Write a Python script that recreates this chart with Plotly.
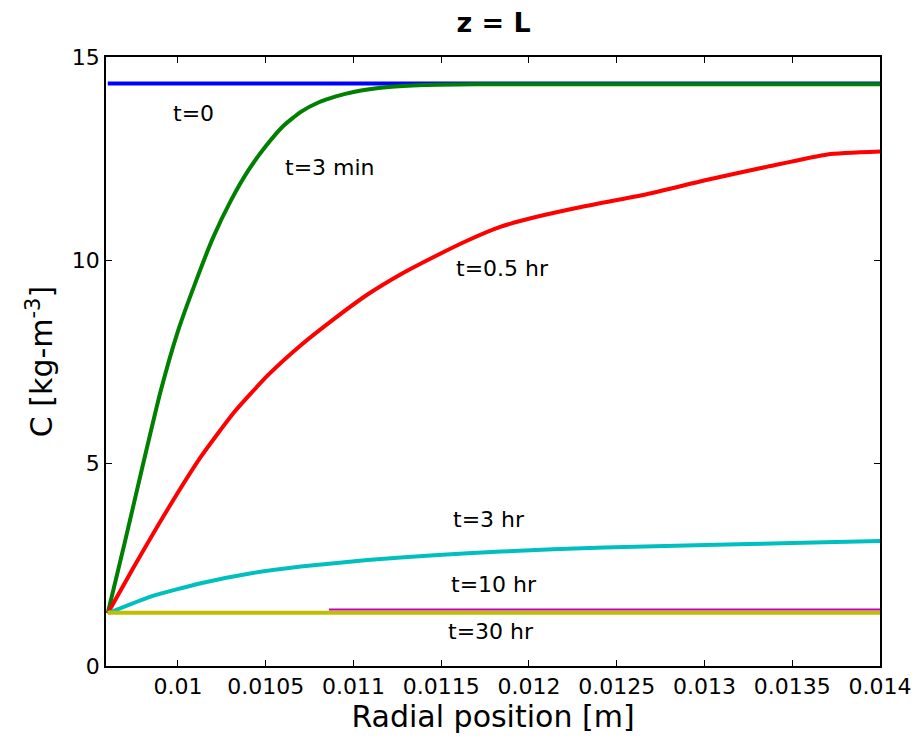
import plotly.graph_objects as go

# Data
x_t0 = [0.0096, 0.014]
c_t0 = [14.35, 14.35]

x_3min = [0.0096, 0.0097, 0.0098, 0.0099, 0.01, 0.0101, 0.0102, 0.0103, 0.0104,
          0.0105, 0.0106, 0.0107, 0.0108, 0.0109, 0.011, 0.0112, 0.0114, 0.0117, 0.014]
c_3min = [1.3, 3.1, 4.95, 6.75, 8.25, 9.45, 10.55, 11.45, 12.2,
          12.8, 13.3, 13.65, 13.88, 14.03, 14.14, 14.26, 14.31, 14.33, 14.33]

x_05hr = [0.0096, 0.00975, 0.00994, 0.01013, 0.01032, 0.01051, 0.0107, 0.01089,
          0.01108, 0.01127, 0.01146, 0.01165, 0.01184, 0.01205, 0.01229, 0.01267,
          0.01301, 0.01336, 0.0137, 0.014]
c_05hr = [1.3, 2.45, 3.85, 5.15, 6.25, 7.15, 7.9, 8.55,
          9.15, 9.65, 10.08, 10.48, 10.82, 11.07, 11.3, 11.62,
          11.97, 12.3, 12.6, 12.67]

x_3hr = [0.0096, 0.009845, 0.01013, 0.01041, 0.0107, 0.01108, 0.01146, 0.01184,
         0.01243, 0.01301, 0.0135, 0.014]
c_3hr = [1.3, 1.71, 2.04, 2.28, 2.45, 2.61, 2.73, 2.82,
         2.92, 2.98, 3.03, 3.08]

x_10hr = [0.01086, 0.014]
c_10hr = [1.39, 1.39]

x_30hr = [0.0096, 0.014]
c_30hr = [1.31, 1.31]

labels = ["t=0", "t=3 min", "t=0.5 hr", "t=3 hr", "t=10 hr", "t=30 hr"]
label_x = [0.010089, 0.010869, 0.01185, 0.011773, 0.011803, 0.011786]
label_y = [13.62, 12.29, 9.8, 3.6, 2.0, 0.84]

x_ticks = [0.01, 0.0105, 0.011, 0.0115, 0.012, 0.0125, 0.013, 0.0135, 0.014]
x_tick_text = ["0.01", "0.0105", "0.011", "0.0115", "0.012", "0.0125", "0.013", "0.0135", "0.014"]
y_ticks = [0, 5, 10, 15]

FONT = "DejaVu Sans, sans-serif"

fig = go.Figure()
series = [
    (x_t0, c_t0, "#0000FF", 4),
    (x_3min, c_3min, "#008000", 4),
    (x_05hr, c_05hr, "#FF0000", 4),
    (x_3hr, c_3hr, "#00BFBF", 4),
    (x_30hr, c_30hr, "#BFBF00", 4),
    (x_10hr, c_10hr, "#BF00BF", 2),
]
for xs, ys, col, w in series:
    fig.add_trace(go.Scatter(x=xs, y=ys, mode="lines",
                             line=dict(color=col, width=w, shape="spline", smoothing=0.5),
                             showlegend=False, hoverinfo="skip"))

for t, lx, ly in zip(labels, label_x, label_y):
    fig.add_annotation(x=lx, y=ly, text=t, showarrow=False,
                       font=dict(family=FONT, size=22, color="black"))

fig.update_layout(
    width=914, height=742,
    margin=dict(l=106, r=34, t=57, b=76),
    paper_bgcolor="white", plot_bgcolor="white",
    title=dict(text="<b>z = L</b>", x=0.54, xanchor="center", y=0.97, yanchor="middle",
               font=dict(family=FONT, size=27, color="black")),
    xaxis=dict(range=[0.00959, 0.014], tickvals=x_ticks, ticktext=x_tick_text,
               ticks="inside", ticklen=6, tickcolor="black", showline=True,
               linecolor="black", linewidth=1.5, mirror="ticks", showgrid=False,
               zeroline=False, automargin=False,
               tickfont=dict(family=FONT, size=22, color="black"),
               title=dict(text="Radial position [m]", standoff=6,
                          font=dict(family=FONT, size=30, color="black"))),
    yaxis=dict(range=[0, 15], tickvals=y_ticks, ticks="inside", ticklen=6,
               tickcolor="black", showline=True, linecolor="black", linewidth=1.5,
               mirror="ticks", showgrid=False, zeroline=False, automargin=False,
               tickfont=dict(family=FONT, size=22, color="black"),
               title=dict(text="C [kg-m<sup>-3</sup>]", standoff=10,
                          font=dict(family=FONT, size=30, color="black"))),
)

fig.write_html("out.html")
